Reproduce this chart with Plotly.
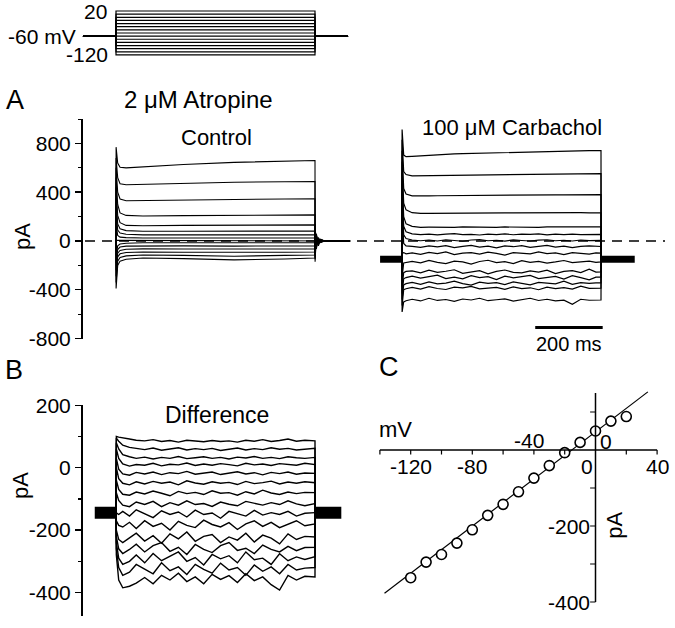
import plotly.graph_objects as go

W, H = 675, 628
FONT = "Liberation Sans, Arial, sans-serif"

# ---------------- data ----------------
VOLTAGES = [20, 10, 0, -10, -20, -30, -40, -50, -60, -70, -80, -90, -100, -110, -120]
HOLD_MV = -60
PROTO_T = [-98, 0, 590, 688]

# Panel A control (pA)
CTRL_HOLD = 0
CTRL_T = [0.3, 5, 12, 30, 80, 200, 350, 500, 590]
CTRL_ROWS = [
    [770, 640, 605, 600, 610, 628, 645, 655, 660],
    [680, 520, 470, 462, 465, 475, 482, 486, 487],
    [600, 400, 345, 330, 332, 338, 342, 345, 346],
    [520, 300, 230, 210, 205, 208, 211, 213, 214],
    [440, 210, 150, 128, 125, 128, 130, 132, 132],
    [350, 140, 100, 85, 80, 80, 81, 82, 82],
    [250, 90, 65, 55, 50, 50, 50, 50, 50],
    [140, 45, 32, 28, 25, 25, 26, 25, 25],
    [5, 5, 5, 5, 5, 4, 6, 5, 5],
    [-120, -40, -25, -18, -15, -15, -16, -15, -15],
    [-180, -70, -50, -42, -40, -40, -42, -41, -40],
    [-240, -100, -78, -68, -65, -66, -68, -66, -65],
    [-290, -130, -105, -95, -90, -92, -95, -92, -90],
    [-340, -165, -135, -122, -115, -118, -125, -118, -115],
    [-390, -200, -165, -150, -140, -145, -155, -148, -140],
]
CTRL_TAIL_T = [590.3, 594, 600, 607, 618, 694]
CTRL_TAIL_ROWS = [
    [-170, 60, -40, 15, 0, 0],
    [-150, 50, -30, 12, 0, 0],
    [-130, 45, -25, 10, 0, 0],
    [-110, 40, -20, 8, 0, 0],
    [-95, 35, -15, 6, 0, 0],
    [-80, 30, -12, 5, 0, 0],
    [-60, 25, -10, 4, 0, 0],
    [-40, 15, -5, 2, 0, 0],
    [5, 3, 0, 0, 0, 0],
    [40, -15, 8, -3, 0, 0],
    [60, -25, 12, -5, 0, 0],
    [80, -35, 16, -6, 0, 0],
    [100, -45, 20, -8, 0, 0],
    [120, -55, 24, -10, 0, 0],
    [140, -65, 28, -12, 0, 0],
]

# Panel A carbachol (pA)
CARB_HOLD = -150
CARB_HOLD_PRE_T = [-65, 0]
CARB_HOLD_POST_T = [591, 690]
CARB_T = [0.3, 5, 12, 30, 55, 80, 105, 130, 155, 180, 205, 230, 255, 280, 305,
          330, 355, 380, 405, 430, 455, 480, 505, 530, 555, 575, 590]
CARB_ROWS = [
    [915, 705, 692, 695, 700, 705, 708, 711, 714, 717, 719, 721, 723, 725, 727, 729, 731, 733, 735, 736, 737, 738, 739, 740, 741, 742, 742],
    [830, 570, 545, 535, 536, 538, 540, 541, 542, 543, 544, 545, 545, 546, 547, 547, 548, 549, 549, 550, 550, 551, 551, 552, 552, 553, 553],
    [740, 430, 385, 370, 368, 370, 371, 372, 373, 373, 374, 375, 375, 376, 376, 377, 377, 378, 378, 378, 379, 379, 380, 380, 380, 380, 380],
    [650, 310, 255, 232, 226, 227, 228, 228, 229, 229, 230, 230, 229, 230, 231, 230, 231, 231, 230, 231, 232, 231, 231, 232, 231, 231, 231],
    [560, 200, 140, 120, 112, 113, 111, 114, 112, 115, 113, 116, 114, 112, 115, 113, 116, 114, 112, 115, 114, 116, 113, 115, 114, 115, 115],
    [470, 120, 75, 58, 52, 57, 50, 56, 60, 52, 55, 49, 57, 53, 58, 51, 56, 54, 59, 50, 56, 53, 57, 52, 55, 54, 55],
    [380, 50, 20, 8, 2, 8, 0, 10, 4, -2, 8, 12, 2, 6, -1, 9, 4, 0, 7, 10, 2, 6, 0, 8, 3, 5, 5],
    [280, -20, -40, -45, -52, -40, -48, -38, -55, -44, -36, -50, -42, -56, -40, -47, -38, -52, -45, -36, -50, -42, -55, -44, -40, -46, -45],
    [-100, -95, -105, -98, -110, -94, -104, -90, -112, -100, -96, -108, -92, -102, -115, -96, -100, -106, -90, -104, -98, -112, -95, -102, -108, -98, -100],
    [-300, -180, -175, -168, -180, -160, -175, -185, -165, -172, -190, -168, -158, -178, -170, -186, -162, -175, -168, -182, -172, -160, -178, -170, -165, -175, -172],
    [-380, -260, -250, -245, -262, -240, -258, -248, -236, -265, -252, -244, -270, -250, -238, -258, -262, -246, -255, -240, -268, -250, -244, -260, -232, -255, -254],
    [-430, -310, -300, -288, -305, -292, -280, -308, -296, -310, -285, -300, -292, -316, -288, -302, -295, -282, -308, -300, -290, -312, -284, -300, -318, -296, -296],
    [-480, -360, -350, -340, -355, -335, -352, -345, -330, -350, -362, -338, -348, -342, -358, -336, -350, -360, -340, -345, -352, -330, -356, -342, -348, -344, -344],
    [-530, -400, -392, -380, -395, -375, -390, -398, -378, -385, -372, -392, -388, -380, -396, -376, -390, -384, -400, -378, -390, -382, -395, -370, -388, -386, -386],
    [-582, -500, -490, -478, -492, -470, -488, -480, -495, -476, -484, -470, -490, -482, -475, -493, -480, -470, -488, -478, -492, -485, -520, -478, -486, -484, -484],
]
SCALE_T = [395, 595]
SCALE_PA = -710

# Panel B difference (pA)
B_HOLD = -144
B_HOLD_PRE_T = [-63, 0]
B_HOLD_POST_T = [591, 668]
B_T = [1, 8, 20, 40, 60, 85, 110, 135, 160, 185, 210, 235, 260, 285, 310,
       335, 360, 385, 410, 435, 460, 485, 510, 535, 560, 590]
B_ROWS = [
    [100, 98, 95, 92, 88, 86, 90, 84, 87, 82, 88, 85, 83, 87, 84, 86, 82, 88, 85, 90, 84, 87, 92, 85, 88, 86],
    [95, 85, 72, 65, 62, 58, 63, 56, 60, 64, 57, 61, 58, 62, 55, 60, 63, 57, 61, 58, 64, 59, 62, 57, 60, 62],
    [80, 60, 42, 35, 30, 34, 28, 33, 30, 36, 29, 32, 35, 30, 33, 28, 34, 31, 36, 30, 33, 29, 35, 32, 30, 33],
    [60, 30, 12, 5, 10, 8, 14, 6, 11, 9, 15, 7, 12, 8, 13, 10, 6, 14, 9, 12, 7, 13, 10, 8, 14, 10],
    [30, -5, -20, -24, -15, -20, -14, -22, -16, -19, -12, -21, -17, -14, -22, -18, -13, -20, -16, -23, -15, -19, -14, -21, -17, -18],
    [0, -35, -50, -55, -45, -52, -44, -50, -46, -55, -42, -49, -53, -45, -50, -47, -54, -44, -51, -48, -43, -52, -46, -50, -45, -48],
    [-40, -70, -85, -88, -78, -84, -75, -82, -90, -76, -83, -79, -86, -74, -82, -80, -88, -77, -84, -72, -81, -86, -78, -83, -79, -80],
    [-80, -105, -120, -125, -110, -118, -108, -125, -112, -120, -106, -118, -115, -124, -110, -117, -122, -108, -115, -120, -112, -118, -106, -116, -122, -115],
    [-145, -150, -140, -155, -135, -148, -160, -138, -150, -142, -158, -136, -150, -145, -162, -140, -148, -155, -137, -152, -144, -150, -140, -155, -146, -145],
    [-170, -185, -190, -175, -195, -170, -188, -178, -200, -172, -185, -192, -168, -182, -190, -176, -198, -180, -170, -188, -175, -192, -182, -170, -186, -180],
    [-200, -230, -240, -225, -210, -235, -218, -242, -212, -228, -206, -236, -220, -214, -240, -222, -232, -210, -238, -216, -226, -244, -212, -230, -220, -222],
    [-220, -260, -275, -262, -245, -270, -250, -240, -268, -255, -278, -246, -262, -272, -250, -240, -265, -258, -275, -248, -262, -270, -252, -266, -256, -255],
    [-240, -290, -310, -300, -280, -305, -275, -298, -285, -270, -300, -288, -312, -278, -292, -282, -305, -270, -295, -290, -310, -276, -298, -286, -294, -285],
    [-260, -320, -345, -335, -310, -325, -340, -305, -330, -318, -342, -310, -326, -338, -306, -328, -320, -345, -312, -332, -318, -340, -310, -328, -322, -320],
    [-280, -360, -385, -380, -370, -352, -372, -345, -360, -338, -365, -350, -372, -342, -358, -346, -368, -340, -362, -350, -375, -392, -345, -360, -348, -350],
]

# Panel C I-V
IV_MV = [-120, -110, -100, -90, -80, -70, -60, -50, -40, -30, -20, -10, 0, 10, 20]
IV_PA = [-336, -295, -275, -245, -210, -172, -143, -110, -74, -41, -7, 20, 50, 76, 88]
FIT_MV = [-137, 34]
FIT_PA = [-377, 153]
C_XAXIS = [-140, 40]
C_YAXIS = [-400, 150]
C_XTICKS = [-140, -120, -100, -80, -60, -40, -20, 20, 40]
C_YTICKS = [100, -100, -200, -300, -400]

# ---------------- helpers ----------------
def px(x):
    return x / W

def py(y):
    return 1 - y / H

LINE = dict(color="black", width=1.1)
fig = go.Figure()

# protocol
for v in VOLTAGES:
    fig.add_trace(go.Scatter(
        x=[PROTO_T[0], PROTO_T[1], PROTO_T[1], PROTO_T[2], PROTO_T[2], PROTO_T[3]],
        y=[HOLD_MV, HOLD_MV, v, v, HOLD_MV, HOLD_MV],
        mode="lines", line=dict(color="black", width=1.2), xaxis="x", yaxis="y",
        hoverinfo="skip"))

# control
for row, tail in zip(CTRL_ROWS, CTRL_TAIL_ROWS):
    fig.add_trace(go.Scatter(
        x=[0] + CTRL_T + CTRL_TAIL_T, y=[CTRL_HOLD] + row + tail,
        mode="lines", line=LINE, xaxis="x2", yaxis="y2", hoverinfo="skip"))

# carbachol
for row in CARB_ROWS:
    fig.add_trace(go.Scatter(
        x=[0] + CARB_T + [CARB_T[-1] + 0.3], y=[CARB_HOLD] + row + [CARB_HOLD],
        mode="lines", line=dict(color="black", width=1.2), xaxis="x3", yaxis="y3",
        hoverinfo="skip"))
for seg in (CARB_HOLD_PRE_T, CARB_HOLD_POST_T):
    fig.add_trace(go.Scatter(x=seg, y=[CARB_HOLD] * 2, mode="lines",
                             line=dict(color="black", width=7), xaxis="x3", yaxis="y3",
                             hoverinfo="skip"))
fig.add_trace(go.Scatter(x=SCALE_T, y=[SCALE_PA] * 2, mode="lines",
                         line=dict(color="black", width=3), xaxis="x3", yaxis="y3",
                         hoverinfo="skip"))

# difference
for row in B_ROWS:
    fig.add_trace(go.Scatter(
        x=[0] + B_T + [B_T[-1] + 0.3], y=[B_HOLD] + row + [B_HOLD],
        mode="lines", line=dict(color="black", width=1.4), xaxis="x4", yaxis="y4",
        hoverinfo="skip"))
for seg in (B_HOLD_PRE_T, B_HOLD_POST_T):
    fig.add_trace(go.Scatter(x=seg, y=[B_HOLD] * 2, mode="lines",
                             line=dict(color="black", width=12), xaxis="x4", yaxis="y4",
                             hoverinfo="skip"))

# I-V
fig.add_trace(go.Scatter(x=FIT_MV, y=FIT_PA, mode="lines",
                         line=dict(color="black", width=1.2), xaxis="x5", yaxis="y5",
                         hoverinfo="skip"))
fig.add_trace(go.Scatter(x=IV_MV, y=IV_PA, mode="markers",
                         marker=dict(symbol="circle", size=10, color="white",
                                     line=dict(color="black", width=1.6)),
                         xaxis="x5", yaxis="y5", hoverinfo="skip"))

# ---------------- axes ----------------
T_RANGE = [-110, 700]
XDOM_L = [px(78.9), px(352.1)]
XDOM_R = [px(364.9), px(638.1)]
hidden = dict(visible=False, showgrid=False, zeroline=False, automargin=False)

def yaxis_visible(rng, dom, vals, minor):
    return dict(range=rng, domain=dom, anchor="free", position=px(81),
                showline=True, linecolor="black", linewidth=1.5,
                ticks="outside", ticklen=6, tickwidth=1.5, tickcolor="black",
                tickvals=vals, ticktext=[str(v) for v in vals],
                tickfont=dict(family=FONT, size=21, color="black"),
                minor=dict(dtick=minor, ticks="outside", ticklen=3, tickwidth=1.2,
                           tickcolor="black", showgrid=False),
                showgrid=False, zeroline=False, automargin=False)

fig.update_layout(
    width=W, height=H, autosize=False,
    margin=dict(l=0, r=0, t=0, b=0, pad=0, autoexpand=False),
    paper_bgcolor="white", plot_bgcolor="rgba(0,0,0,0)", showlegend=False,
    font=dict(family=FONT, color="black"),
    xaxis=dict(range=T_RANGE, domain=XDOM_L, anchor="y", **hidden),
    yaxis=dict(range=[-130, 30], domain=[py(58.1), py(7.86)], anchor="x", **hidden),
    xaxis2=dict(range=T_RANGE, domain=XDOM_L, anchor="y2", **hidden),
    yaxis2=yaxis_visible([-800, 1000], [py(338.5), py(119.1)],
                         [-800, -400, 0, 400, 800], 200),
    xaxis3=dict(range=T_RANGE, domain=XDOM_R, anchor="y3", **hidden),
    yaxis3=dict(range=[-800, 1000], domain=[py(338.5), py(119.1)], anchor="x3", **hidden),
    xaxis4=dict(range=T_RANGE, domain=XDOM_L, anchor="y4", **hidden),
    yaxis4=yaxis_visible([-475, 200], [py(615.9), py(405.3)],
                         [-400, -200, 0, 200], 100),
    xaxis5=dict(range=[-145, 45], domain=[px(372.2), px(664.8)], anchor="y5", **hidden),
    yaxis5=dict(range=[-420, 160], domain=[py(609.6), py(389.2)], anchor="x5", **hidden),
)

# ---------------- shapes ----------------
shapes = []
shapes.append(dict(type="line", xref="paper", yref="y2", x0=px(85), x1=px(665),
                   y0=0, y1=0, line=dict(color="black", width=1.5, dash="10px,7px")))
shapes.append(dict(type="line", xref="x5", yref="y5", x0=C_XAXIS[0], x1=C_XAXIS[1],
                   y0=0, y1=0, line=dict(color="black", width=1.5)))
shapes.append(dict(type="line", xref="x5", yref="y5", x0=0, x1=0,
                   y0=C_YAXIS[0], y1=C_YAXIS[1], line=dict(color="black", width=1.5)))
for t in C_XTICKS:
    shapes.append(dict(type="line", xref="x5", yref="y5", x0=t, x1=t, y0=0, y1=-12,
                       line=dict(color="black", width=1.2)))
for t in C_YTICKS:
    shapes.append(dict(type="line", xref="x5", yref="y5", x0=0, x1=-3.5, y0=t, y1=t,
                       line=dict(color="black", width=1.2)))
fig.update_layout(shapes=shapes)

# ---------------- text ----------------
ann = []

def paper_text(text, x, y, size, angle=0, xanchor="center"):
    ann.append(dict(text=text, xref="paper", yref="paper", x=px(x), y=py(y),
                    xanchor=xanchor, yanchor="middle", showarrow=False, textangle=angle,
                    font=dict(family=FONT, size=size, color="black")))

def axis_text(text, xref, x, yref, y, size=21, xanchor="center", angle=0):
    ann.append(dict(text=text, xref=xref, yref=yref, x=x, y=y,
                    xanchor=xanchor, yanchor="middle", showarrow=False, textangle=angle,
                    font=dict(family=FONT, size=size, color="black")))

# protocol labels (y positions from the protocol voltage axis)
axis_text("20", "paper", px(109), "y", 20, 21, "right")
axis_text("-120", "paper", px(110), "y", -120, 21, "right")
axis_text("-60 mV", "paper", px(78), "y", HOLD_MV, 21, "right")

paper_text("A", 15, 100, 27)
paper_text("2 μM Atropine", 198, 100, 24)
paper_text("Control", 216, 137, 22)
paper_text("100 μM Carbachol", 512, 128, 22)
paper_text("pA", 22, 236, 22, angle=-90)
axis_text("200 ms", "x3", sum(SCALE_T) / 2, "paper", py(344), 20)

paper_text("B", 14, 370, 27)
paper_text("Difference", 217, 415, 23)
paper_text("pA", 20, 486, 22, angle=-90)

paper_text("C", 389, 367, 27)
for v in (-120, -80):
    axis_text(str(v), "x5", v, "y5", -44)
axis_text("-40", "x5", -43, "y5", 26)
axis_text("0", "x5", -5.7, "y5", -44)
axis_text("40", "x5", 40, "y5", -44)
axis_text("0", "x5", 6.5, "y5", 22)
for v in (-200, -400):
    axis_text(str(v), "x5", -2.5, "y5", v, 21, "right")
axis_text("mV", "x5", -130, "y5", 53, 22)
axis_text("pA", "x5", 12.7, "y5", -199, 22, "center", -90)

fig.update_layout(annotations=ann)

fig.write_html("out.html", config={"displayModeBar": False, "staticPlot": True},
               post_script="document.body.style.margin='0';document.body.style.padding='0';")
